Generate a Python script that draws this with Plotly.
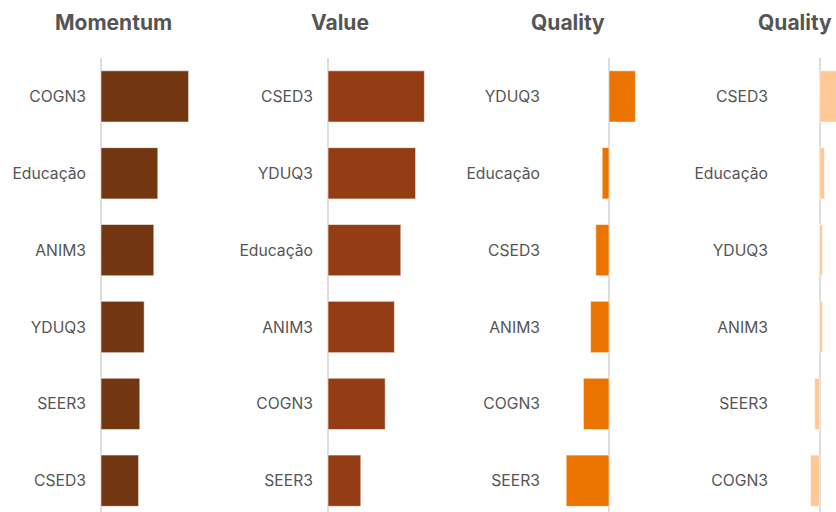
import plotly.graph_objects as go

# ---- data (top row first) ----
momentum_cats = ["COGN3", "Educação", "ANIM3", "YDUQ3", "SEER3", "CSED3"]
momentum_vals = [2.19, 1.42, 1.32, 1.08, 0.97, 0.94]

value_cats = ["CSED3", "YDUQ3", "Educação", "ANIM3", "COGN3", "SEER3"]
value_vals = [2.41, 2.19, 1.82, 1.66, 1.43, 0.82]

quality_cats = ["YDUQ3", "Educação", "CSED3", "ANIM3", "COGN3", "SEER3"]
quality_vals = [0.66, -0.17, -0.33, -0.46, -0.64, -1.07]

quality2_cats = ["CSED3", "Educação", "YDUQ3", "ANIM3", "SEER3", "COGN3"]
quality2_vals = [0.90, 0.12, 0.07, 0.07, -0.125, -0.23]

titles = ["Momentum", "Value", "Quality", "Quality"]
colors = ["#723711", "#943D15", "#EB7300", "#FFC894"]

W, H = 836, 512
panels = [
    (momentum_cats, momentum_vals, (99, 215), (-0.05, 2.85), 113.5),
    (value_cats, value_vals, (326, 442), (-0.05, 2.85), 340),
    (quality_cats, quality_vals, (553, 669), (-1.4, 1.5), 567.5),
    (quality2_cats, quality2_vals, (781, 836), (-0.9675, 0.4075), 795),
]

fig = go.Figure()
layout = dict(
    width=W, height=H,
    margin=dict(l=0, r=0, t=0, b=0),
    paper_bgcolor="white", plot_bgcolor="white",
    showlegend=False, bargap=0.333,
    font=dict(family="Inter, Roboto, sans-serif", color="#555555"),
    annotations=[],
)

def fx(px):
    return px / W

def fy(py):
    return 1 - py / H

for i, (cats, vals, dom, rng, tcx) in enumerate(panels):
    n = i + 1
    xa = "x" if n == 1 else f"x{n}"
    ya = "y" if n == 1 else f"y{n}"
    fig.add_trace(go.Bar(
        x=vals, y=cats, orientation="h", xaxis=xa, yaxis=ya,
        marker=dict(color=colors[i], line=dict(color="rgba(255,255,255,0.55)", width=1)),
        hoverinfo="x+y",
    ))
    xkey = "xaxis" if n == 1 else f"xaxis{n}"
    ykey = "yaxis" if n == 1 else f"yaxis{n}"
    layout[xkey] = dict(
        domain=[fx(dom[0]), fx(dom[1])], range=list(rng), anchor=ya,
        showgrid=False, showticklabels=False, ticks="",
        zeroline=True, zerolinecolor="#DDDDDD", zerolinewidth=2,
        showline=False, fixedrange=True,
    )
    layout[ykey] = dict(
        domain=[fy(512), fy(58)], anchor=xa, type="category",
        categoryorder="array", categoryarray=list(reversed(cats)),
        range=[-0.407, 5.5], showgrid=False, zeroline=False, showline=False,
        ticks="", ticklabelstandoff=12,
        tickfont=dict(size=15.7, color="#555555", family="Inter, Roboto, sans-serif"),
        fixedrange=True,
    )
    layout["annotations"].append(dict(
        text=f"<b>{titles[i]}</b>", x=fx(tcx), y=fy(22),
        xref="paper", yref="paper", xanchor="center", yanchor="middle",
        showarrow=False, font=dict(size=21, color="#555555", family="Inter, Roboto, sans-serif"),
    ))

fig.update_layout(**layout)
fig.write_html(
    "out.html",
    config={"displayModeBar": False},
    post_script="document.body.style.margin='0';document.body.style.overflow='hidden';",
)
